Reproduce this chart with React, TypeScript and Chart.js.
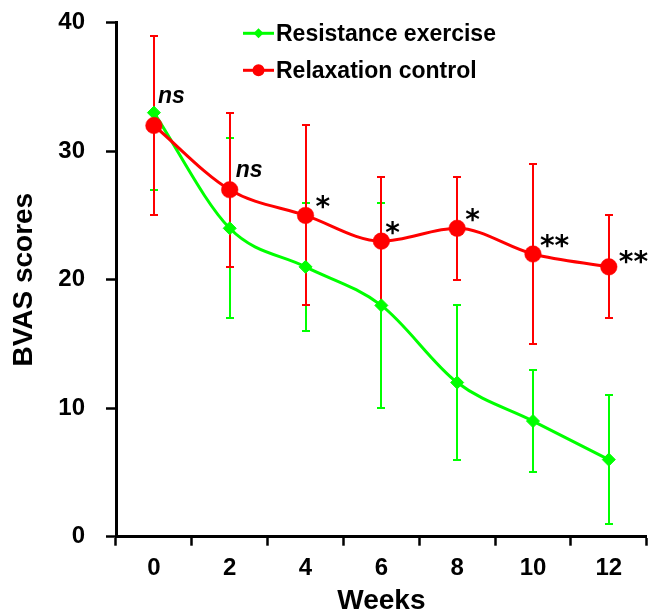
import React, { useEffect, useRef } from 'react';
import { Chart, registerables } from 'chart.js';

Chart.register(...registerables);

// ---- data ----
const weeks = ['0', '2', '4', '6', '8', '10', '12'];
const resistanceMean = [33, 24, 21, 18, 12, 9, 6];
const resistanceErr = [6, 7, 5, 8, 6, 4, 5];
const relaxationMean = [32, 27, 25, 23, 24, 22, 21];
const relaxationErr = [7, 6, 7, 5, 4, 7, 4];
const significance = ['ns', 'ns', '*', '*', '*', '**', '**'];
const yMin = 0;
const yMax = 40;
const yStep = 10;

// ---- styles ----
const GREEN = '#00ff00';
const RED = '#ff0000';
const SANS = '"Liberation Sans", Arial, Helvetica, sans-serif';
const STAR_FONT = '"DejaVu Sans", sans-serif';
// annotation placement relative to the control-group point (pixels)
const sigDx = [4, 6, 10, 4, 8, 7, 10];
const sigDy = [-23, -13, 1, 1, 1, 1, 4];

const errorBarPlugin = {
  id: 'errorBars',
  beforeDatasetsDraw(chart: any) {
    const { ctx } = chart;
    const yScale = chart.scales.y;
    ctx.save();
    chart.data.datasets.forEach((ds: any, di: number) => {
      const meta = chart.getDatasetMeta(di);
      ctx.strokeStyle = ds.borderColor;
      ctx.lineWidth = 2;
      ctx.lineCap = 'butt';
      meta.data.forEach((pt: any, i: number) => {
        const v = ds.data[i];
        const e = ds.errors[i];
        const yTop = Math.round(yScale.getPixelForValue(v + e));
        const yBot = Math.round(yScale.getPixelForValue(v - e));
        const x = Math.round(pt.x);
        const cap = 4;
        ctx.beginPath();
        ctx.moveTo(x, yTop - 1);
        ctx.lineTo(x, yBot + 1);
        ctx.moveTo(x - cap, yTop);
        ctx.lineTo(x + cap, yTop);
        ctx.moveTo(x - cap, yBot);
        ctx.lineTo(x + cap, yBot);
        ctx.stroke();
      });
    });
    ctx.restore();
  },
};

const significancePlugin = {
  id: 'significance',
  afterDatasetsDraw(chart: any) {
    const { ctx } = chart;
    const meta = chart.getDatasetMeta(1);
    ctx.save();
    ctx.fillStyle = '#000';
    ctx.textAlign = 'left';
    ctx.textBaseline = 'alphabetic';
    meta.data.forEach((pt: any, i: number) => {
      const label = significance[i];
      if (!label) return;
      if (label === 'ns') {
        ctx.font = `italic bold 23px ${SANS}`;
      } else {
        ctx.font = `bold 28px ${STAR_FONT}`;
      }
      ctx.fillText(label, pt.x + sigDx[i], pt.y + sigDy[i]);
    });
    ctx.restore();
  },
};

const legendPlugin = {
  id: 'innerLegend',
  afterDraw(chart: any) {
    const { ctx, chartArea } = chart;
    const x0 = chartArea.left + 127;
    const y0 = chartArea.top + 10.6;
    const gap = 37;
    ctx.save();
    chart.data.datasets.forEach((ds: any, i: number) => {
      const y = y0 + i * gap;
      ctx.strokeStyle = ds.borderColor;
      ctx.fillStyle = ds.borderColor;
      ctx.lineWidth = 3;
      ctx.beginPath();
      ctx.moveTo(x0, y);
      ctx.lineTo(x0 + 31, y);
      ctx.stroke();
      const cx = x0 + 15.5;
      ctx.beginPath();
      if (ds.pointStyle === 'rectRot') {
        const r = 5;
        ctx.moveTo(cx - r, y);
        ctx.lineTo(cx, y - r);
        ctx.lineTo(cx + r, y);
        ctx.lineTo(cx, y + r);
        ctx.closePath();
      } else {
        ctx.arc(cx, y, 6, 0, Math.PI * 2);
      }
      ctx.fill();
      ctx.fillStyle = '#000';
      ctx.font = `bold 23px ${SANS}`;
      ctx.textAlign = 'left';
      ctx.textBaseline = 'middle';
      ctx.fillText(ds.label, x0 + 33, y + 1);
    });
    ctx.restore();
  },
};

export default function App() {
  const canvasRef = useRef<HTMLCanvasElement | null>(null);

  useEffect(() => {
    if (!canvasRef.current) return;
    const chart = new Chart(canvasRef.current, {
      type: 'line',
      data: {
        labels: weeks,
        datasets: [
          {
            label: 'Resistance exercise',
            data: resistanceMean,
            errors: resistanceErr,
            borderColor: GREEN,
            backgroundColor: GREEN,
            borderWidth: 3,
            pointStyle: 'rectRot',
            pointRadius: 6.5,
            pointBorderWidth: 1,
            pointBackgroundColor: GREEN,
            pointBorderColor: GREEN,
            cubicInterpolationMode: 'monotone',
            tension: 0.4,
            fill: false,
            order: 1,
          } as any,
          {
            label: 'Relaxation control',
            data: relaxationMean,
            errors: relaxationErr,
            borderColor: RED,
            backgroundColor: RED,
            borderWidth: 3,
            pointStyle: 'circle',
            pointRadius: 8.3,
            pointBorderWidth: 0.5,
            pointBackgroundColor: RED,
            pointBorderColor: RED,
            cubicInterpolationMode: 'monotone',
            tension: 0.4,
            fill: false,
            order: 0,
          } as any,
        ],
      },
      options: {
        responsive: false,
        maintainAspectRatio: false,
        animation: false,
        devicePixelRatio: 1,
        events: [],
        layout: { autoPadding: false, padding: { top: 22.7, right: 1.3, left: 0, bottom: 0 } },
        plugins: {
          legend: { display: false },
          tooltip: { enabled: false },
        },
        scales: {
          x: {
            type: 'category',
            offset: true,
            grid: {
              offset: true,
              drawOnChartArea: false,
              drawTicks: true,
              tickLength: 9,
              tickWidth: 2.5,
              color: '#000',
              tickColor: '#000',
            },
            border: { display: true, color: '#000', width: 3 },
            ticks: {
              color: '#000',
              padding: 8,
              font: { family: SANS, size: 24, weight: 'bold' },
              maxRotation: 0,
              autoSkip: false,
            },
            title: {
              display: true,
              text: 'Weeks',
              color: '#000',
              font: { family: SANS, size: 28, weight: 'bold', lineHeight: 1 },
              padding: { top: 0, bottom: -2 },
            },
            afterFit: (scale: any) => {
              scale.height = 76.3;
              scale.paddingLeft = 0;
              scale.paddingRight = 0;
            },
          },
          y: {
            type: 'linear',
            min: yMin,
            max: yMax,
            grid: {
              drawOnChartArea: false,
              drawTicks: true,
              tickLength: 10,
              tickWidth: 2.5,
              color: '#000',
              tickColor: '#000',
            },
            border: { display: true, color: '#000', width: 3 },
            ticks: {
              stepSize: yStep,
              color: '#000',
              padding: 21,
              font: { family: SANS, size: 24, weight: 'bold' },
            },
            title: {
              display: true,
              text: 'BVAS scores',
              color: '#000',
              font: { family: SANS, size: 28, weight: 'bold', lineHeight: 1 },
              padding: { top: 10, bottom: 0 },
            },
            afterFit: (scale: any) => {
              scale.width = 116;
              scale.paddingTop = 0;
              scale.paddingBottom = 0;
            },
          },
        },
      } as any,
      plugins: [errorBarPlugin, significancePlugin, legendPlugin],
    });
    return () => chart.destroy();
  }, []);

  return (
    <div style={{ position: 'fixed', left: 0, top: 0, width: 648, height: 613, background: '#fff' }}>
      <canvas ref={canvasRef} width={648} height={613} style={{ display: 'block', width: 648, height: 613 }} />
    </div>
  );
}
